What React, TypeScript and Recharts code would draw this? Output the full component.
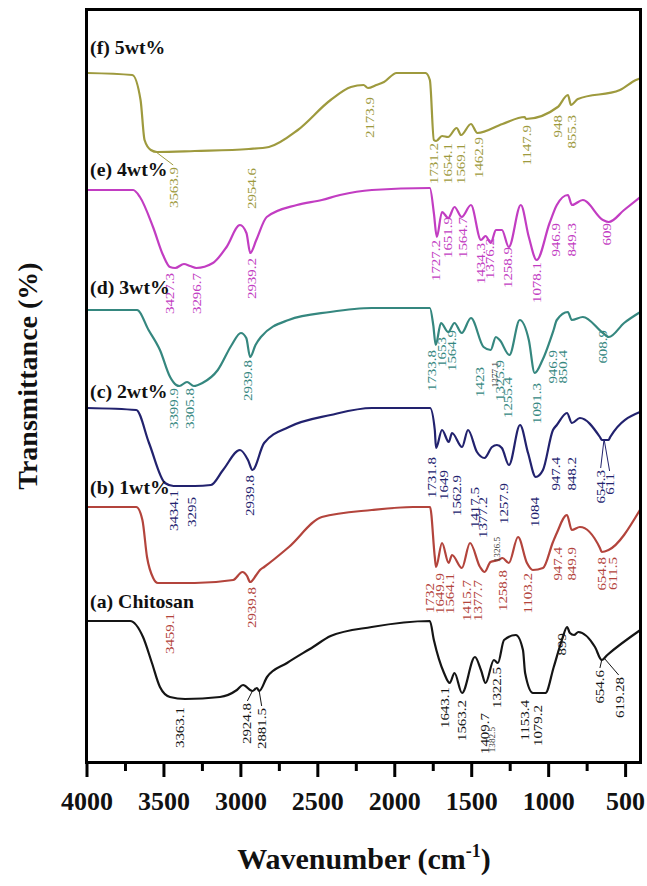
import { ComposedChart, Line, Scatter, XAxis, YAxis } from 'recharts'

// FTIR spectra, offset transmittance (arbitrary units)
type Pt = [number, number]

const specF: Pt[] = [[4000, 689], [3706, 687], [3652, 662], [3626, 622], [3585, 612], [3545, 610], [3300, 611], [2948, 613], [2818, 615], [2630, 632], [2417, 662], [2285, 675], [2203, 677], [2174, 674], [2120, 677], [2070, 680], [1988, 689], [1800, 689], [1772, 682], [1746, 622], [1731, 621], [1693, 626], [1654, 625], [1598, 634], [1569, 627], [1505, 638], [1463, 629], [1300, 638], [1155, 645], [1148, 643], [941, 655], [875, 667], [855, 657], [810, 663], [537, 672], [433, 682], [400, 684]]
const specE: Pt[] = [[4000, 572], [3700, 572], [3656, 565], [3571, 535], [3506, 507], [3461, 495], [3427, 494], [3370, 498], [3330, 496], [3290, 494], [3182, 499], [3093, 515], [3006, 537], [2964, 529], [2939, 509], [2900, 522], [2832, 545], [2636, 557], [2474, 562], [2356, 567], [2149, 572], [1772, 574], [1746, 549], [1727, 525], [1693, 550], [1652, 544], [1612, 555], [1565, 545], [1505, 557], [1440, 522], [1410, 526], [1376, 519], [1343, 532], [1304, 532], [1259, 515], [1181, 557], [1129, 525], [1078, 502], [994, 539], [947, 557], [875, 567], [849, 557], [778, 562], [647, 542], [609, 540], [510, 552], [404, 565]]
const specD: Pt[] = [[4000, 452], [3675, 452], [3600, 432], [3526, 412], [3460, 385], [3420, 377], [3400, 376], [3350, 380], [3306, 376], [3250, 379], [3150, 392], [3060, 417], [3000, 429], [2965, 424], [2940, 405], [2905, 417], [2870, 425], [2690, 442], [2420, 450], [2150, 454], [1772, 454], [1750, 437], [1734, 417], [1700, 439], [1653, 430], [1612, 439], [1565, 429], [1505, 444], [1423, 415], [1377, 412], [1343, 425], [1318, 422], [1255, 407], [1188, 442], [1129, 422], [1091, 389], [1040, 402], [968, 432], [947, 442], [875, 450], [850, 442], [778, 445], [647, 429], [609, 425], [510, 439], [404, 450]]
const specC: Pt[] = [[4000, 354], [3680, 352], [3597, 319], [3493, 279], [3438, 276], [3300, 276], [3195, 277], [3116, 292], [3006, 312], [2954, 302], [2925, 292], [2849, 319], [2688, 335], [2417, 347], [2149, 354], [1771, 354], [1740, 332], [1732, 314], [1693, 332], [1649, 320], [1628, 329], [1563, 315], [1524, 332], [1466, 310], [1417, 304], [1368, 315], [1336, 317], [1304, 314], [1258, 297], [1186, 337], [1134, 309], [1084, 285], [1037, 292], [972, 332], [947, 337], [881, 349], [849, 339], [797, 344], [667, 325], [654, 322], [611, 322], [600, 325], [407, 350]]
const specB: Pt[] = [[4000, 255], [3680, 255], [3640, 242], [3610, 205], [3570, 184], [3540, 179], [3300, 179], [3050, 182], [2990, 190], [2960, 186], [2940, 180], [2900, 187], [2876, 192], [2849, 195], [2688, 215], [2474, 245], [2149, 252], [1882, 255], [1771, 255], [1740, 205], [1732, 195], [1693, 219], [1650, 199], [1628, 207], [1564, 194], [1511, 219], [1446, 195], [1416, 190], [1378, 200], [1327, 202], [1300, 204], [1259, 199], [1199, 225], [1141, 199], [1103, 192], [1037, 194], [972, 220], [947, 229], [881, 247], [850, 232], [797, 235], [667, 214], [655, 210], [611, 212], [407, 252]]
const specA: Pt[] = [[4000, 141], [3720, 141], [3636, 125], [3578, 99], [3526, 75], [3461, 65], [3363, 63], [3136, 65], [3026, 72], [2986, 77], [2925, 71], [2896, 74], [2881, 71], [2830, 85], [2700, 99], [2531, 115], [2417, 126], [2150, 135], [1772, 141], [1746, 122], [1680, 89], [1643, 79], [1612, 89], [1563, 69], [1479, 105], [1440, 92], [1410, 79], [1356, 102], [1330, 99], [1290, 122], [1213, 127], [1167, 112], [1153, 89], [1102, 69], [1079, 69], [1021, 69], [967, 95], [914, 122], [880, 135], [862, 129], [835, 127], [807, 130], [699, 115], [655, 102], [619, 107], [404, 132]]

// peak annotations: [text, wavenumber position, top of label]
type Peak = [string, number, number]
const peaksF: Peak[] = [['3563.9', 3435, 595], ['2954.6', 2928, 594], ['2173.9', 2161, 665], ['1731.2', 1745, 619], ['1654.1', 1654, 619], ['1569.1', 1570, 619], ['1462.9', 1453, 625], ['1147.9', 1141, 637], ['948', 940, 647], ['855.3', 849, 647]]
const peaksE: Peak[] = [['3427.3', 3461, 489], ['3296.7', 3285, 489], ['2939.2', 2928, 504], ['1727.2', 1732, 522], ['1651.9', 1654, 545], ['1564.7', 1557, 545], ['1434.3', 1440, 519], ['1376.2', 1381, 524], ['1258.9', 1264, 515], ['1078.1', 1076, 500], ['946.9', 953, 539], ['849.3', 849, 539], ['609', 621, 539]]
const peaksD: Peak[] = [['3399.9', 3438, 374], ['3305.8', 3331, 374], ['2939.8', 2954, 402], ['1733.8', 1758, 412], ['1653', 1693, 425], ['1564.9', 1628, 432], ['1423', 1446, 395], ['1325.9', 1316, 402], ['1255.4', 1264, 385], ['1091.3', 1076, 379], ['946.9', 972, 412], ['850.4', 907, 412], ['608.9', 647, 432]]
const peaksC: Peak[] = [['3434.1', 3438, 272], ['3295', 3318, 265], ['2939.8', 2941, 287], ['1731.8', 1758, 305], ['1649', 1680, 292], ['1562.9', 1596, 287], ['1417.5', 1479, 275], ['1377.2', 1427, 265], ['1257.9', 1290, 279], ['1084', 1089, 265], ['947.4', 953, 305], ['848.2', 849, 305], ['654.3', 660, 292], ['611', 602, 289]]
const peaksB: Peak[] = [['3459.1', 3461, 149], ['2939.8', 2928, 175], ['1732', 1771, 179], ['1649.9', 1706, 189], ['1564.1', 1641, 189], ['1415.7', 1530, 182], ['1377.7', 1460, 182], ['1258.8', 1297, 192], ['1103.2', 1135, 189], ['947.4', 940, 215], ['849.9', 849, 215], ['654.8', 654, 205], ['611.5', 582, 205]]
const peaksA: Peak[] = [['3363.1', 3396, 55], ['2924.8', 2960, 59], ['2881.5', 2863, 54], ['1643.1', 1674, 75], ['1563.2', 1563, 62], ['1409.7', 1414, 49], ['1322.5', 1336, 95], ['1153.4', 1154, 62], ['1079.2', 1070, 57], ['899', 914, 129], ['654.6', 667, 92], ['619.28', 537, 85]]
const peaksMinor: Peak[] = [['1377.1', 1349, 400], ['1326.5', 1336, 225], ['1382.5', 1368, 35]]

// leader lines from a band to its label: [from wavenumber, from T, to wavenumber, to T]
type Lead = [number, number, number, number]
const leadsF: Lead[] = [[3560, 611, 3440, 597]]
const leadsC: Lead[] = [[640, 323, 662, 294], [640, 323, 604, 291]]
const leadsA: Lead[] = [[2925, 71, 2958, 61], [2881, 71, 2865, 56], [655, 102, 667, 94], [640, 104, 545, 87]]

// sample names: [text, wavenumber, baseline]
const sampleNames: Peak[] = [['(f) 5wt%', 3980, 708], ['(e) 4wt%', 3980, 586], ['(d) 3wt%', 3980, 468], ['(c) 2wt%', 3980, 364], ['(b) 1wt%', 3980, 268], ['(a) Chitosan', 3980, 154]]

const xTicks = [4000, 3750, 3500, 3250, 3000, 2750, 2500, 2250, 2000, 1750, 1500, 1250, 1000, 750, 500]

const SERIF = "'Liberation Serif', 'Times New Roman', serif"

const toRows = (pts: Pt[]) => pts.map(([x, y]) => ({ x, y }))
const toLabels = (pks: Peak[]) => pks.map(([t, x, y]) => ({ t, x, y }))
const toLead = ([x1, y1, x2, y2]: Lead) => [{ x: x1, y: y1 }, { x: x2, y: y2 }]

const SERIES = [
  { key: 'f', spec: specF, peaks: peaksF, leads: leadsF, color: '#9e9a3e' },
  { key: 'e', spec: specE, peaks: peaksE, leads: [] as Lead[], color: '#c23dc2' },
  { key: 'd', spec: specD, peaks: peaksD, leads: [] as Lead[], color: '#35877f' },
  { key: 'c', spec: specC, peaks: peaksC, leads: leadsC, color: '#22226e' },
  { key: 'b', spec: specB, peaks: peaksB, leads: [] as Lead[], color: '#b3443c' },
  { key: 'a', spec: specA, peaks: peaksA, leads: leadsA, color: '#151515' },
]

function WaveTick(props: any) {
  const { x, y, payload } = props
  const major = payload.value % 500 === 0
  return (
    <g>
      <line x1={x} y1={y} x2={x} y2={y + (major ? 15 : 9)} stroke="#000" strokeWidth={3} />
      {major && (
        <text x={x} y={y + 48} textAnchor="middle" fontSize={26} fontWeight="bold" fontFamily={SERIF} fill="#111">
          {payload.value}
        </text>
      )}
    </g>
  )
}

function peakShape(color: string, size: number) {
  return (p: any) => (
    <text
      transform={`translate(${p.cx},${p.cy}) rotate(-90) scale(1.15,1)`}
      textAnchor="end"
      dominantBaseline="central"
      fontSize={size}
      fontFamily={SERIF}
      fill={color}
    >
      {p.payload.t}
    </text>
  )
}

function nameShape(p: any) {
  return (
    <text
      transform={`translate(${p.cx},${p.cy}) scale(1.1,1)`}
      fontSize={18}
      fontWeight="bold"
      fontFamily={SERIF}
      fill="#111"
    >
      {p.payload.t}
    </text>
  )
}

export default function App() {
  return (
    <div style={{ position: 'absolute', left: 0, top: 0, width: 647, height: 886, background: '#fff' }}>
      <ComposedChart width={647} height={886} margin={{ top: 9, right: 6, bottom: 84, left: 87 }}>
        <XAxis
          type="number"
          dataKey="x"
          domain={[400, 4000]}
          reversed
          allowDataOverflow
          ticks={xTicks}
          interval={0}
          height={40}
          tickSize={0}
          tickMargin={0}
          tickLine={false}
          axisLine={false}
          tick={<WaveTick />}
        />
        <YAxis type="number" dataKey="y" domain={[0, 753]} hide allowDataOverflow />
        {SERIES.map((s) => (
          <Line
            key={s.key}
            data={toRows(s.spec)}
            dataKey="y"
            type="monotone"
            stroke={s.color}
            strokeWidth={2.2}
            dot={false}
            activeDot={false}
            isAnimationActive={false}
          />
        ))}
        {SERIES.flatMap((s) =>
          s.leads.map((l, i) => (
            <Line
              key={`l${s.key}${i}`}
              data={toLead(l)}
              dataKey="y"
              type="linear"
              stroke={s.color}
              strokeWidth={1}
              dot={false}
              activeDot={false}
              isAnimationActive={false}
            />
          ))
        )}
        {SERIES.map((s) => (
          <Scatter
            key={`p${s.key}`}
            data={toLabels(s.peaks)}
            dataKey="y"
            shape={peakShape(s.color, 13)}
            isAnimationActive={false}
          />
        ))}
        <Scatter data={toLabels(peaksMinor)} dataKey="y" shape={peakShape('#333', 8)} isAnimationActive={false} />
        <Scatter data={toLabels(sampleNames)} dataKey="y" shape={nameShape} isAnimationActive={false} />
      </ComposedChart>

      <div
        style={{
          position: 'absolute',
          left: 85,
          top: 8,
          width: 557,
          height: 756,
          border: '3px solid #000',
          boxSizing: 'border-box',
          pointerEvents: 'none',
        }}
      />

      <div
        style={{
          position: 'absolute',
          left: 28,
          top: 376,
          transform: 'translate(-50%, -50%) rotate(-90deg)',
          whiteSpace: 'nowrap',
          fontFamily: SERIF,
          fontWeight: 'bold',
          fontSize: 28,
          color: '#111',
        }}
      >
        Transmittance (%)
      </div>

      <div
        style={{
          position: 'absolute',
          left: 364,
          top: 843,
          transform: 'translateX(-50%)',
          whiteSpace: 'nowrap',
          fontFamily: SERIF,
          fontWeight: 'bold',
          fontSize: 30,
          lineHeight: '32px',
          color: '#111',
        }}
      >
        Wavenumber (cm
        <span style={{ fontSize: 18, position: 'relative', top: -12, lineHeight: 0 }}>-1</span>)
      </div>
    </div>
  )
}
